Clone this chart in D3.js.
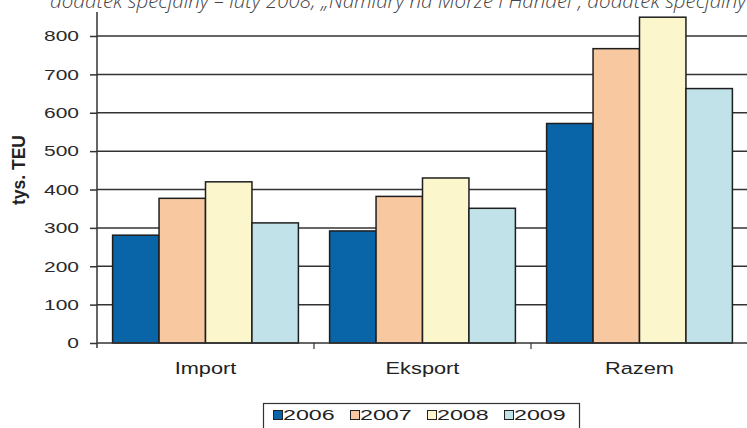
<!DOCTYPE html>
<html>
<head>
<meta charset="utf-8">
<script src="https://cdn.jsdelivr.net/npm/d3@7"></script>
<style>
  html, body { margin: 0; padding: 0; background: #fff; }
  svg { display: block; }
</style>
</head>
<body>
<svg id="chart" width="747" height="428"></svg>
<script>
// Container throughput (thousand TEU) by flow direction and year
const categories = ["Import", "Eksport", "Razem"];
const years = ["2006", "2007", "2008", "2009"];
const values2006 = [281, 292, 572];
const values2007 = [377, 382, 767];
const values2008 = [420, 430, 849];
const values2009 = [313, 351, 663];
const yTicks = [0, 100, 200, 300, 400, 500, 600, 700, 800];
const colors = ["#0a64a8", "#f8c9a0", "#fbf6cb", "#c2e2ea"];
const sourceNote = "dodatek specjalny \u2013 luty 2008; \u201eNamiary na Morze i Handel\u201d, dodatek specjalny";

const seriesValues = [values2006, values2007, values2008, values2009];
const data = categories.map((c, i) => ({
  category: c,
  bars: years.map((y, j) => ({ year: y, value: seriesValues[j][i], color: colors[j] }))
}));

const svg = d3.select("#chart");
const sans = "Liberation Sans, Arial, sans-serif";

const plotLeft = 97, plotRight = 748, plotBottom = 343, plotTop = 36;

const x0 = d3.scaleBand().domain(categories).range([plotLeft, plotRight]).paddingInner(0).paddingOuter(0);
const x1 = d3.scaleBand().domain(years).range([15.6, x0.bandwidth() - 15.6]).padding(0);
const y = d3.scaleLinear().domain([0, 800]).range([plotBottom, plotTop]);

// Widen horizontal label text around its own anchor point
function widen(sel, s) {
  sel.each(function () {
    const t = d3.select(this);
    const x = +t.attr("x") || 0;
    t.attr("x", x / s).attr("transform", `scale(${s},1)`);
  });
}

// Source note (italic line running along the top edge)
svg.append("text")
  .attr("x", 50).attr("y", 8)
  .attr("font-family", "Open Sans")
  .attr("font-style", "italic")
  .attr("font-weight", 300)
  .attr("font-size", 20.5)
  .attr("fill", "#444")
  .text(sourceNote);

// Horizontal gridlines
svg.append("g")
  .selectAll("line")
  .data(yTicks.filter(t => t > 0))
  .join("line")
  .attr("x1", plotLeft).attr("x2", 747)
  .attr("y1", d => y(d)).attr("y2", d => y(d))
  .attr("stroke", "#333")
  .attr("stroke-width", 1.5);

// Bars
const groups = svg.append("g")
  .selectAll("g")
  .data(data)
  .join("g")
  .attr("transform", d => `translate(${x0(d.category)},0)`);

groups.selectAll("rect")
  .data(d => d.bars)
  .join("rect")
  .attr("x", d => x1(d.year))
  .attr("y", d => y(d.value))
  .attr("width", x1.bandwidth())
  .attr("height", d => y(0) - y(d.value))
  .attr("fill", d => d.color)
  .attr("stroke", "#1e1e1e")
  .attr("stroke-width", 1.5);

// Y axis
const yAxis = d3.axisLeft(y)
  .tickValues(yTicks)
  .tickSize(7)
  .tickPadding(11)
  .tickFormat(d3.format("d"));

const gy = svg.append("g")
  .attr("transform", `translate(${plotLeft},0)`)
  .call(yAxis);
gy.select(".domain").remove();
gy.selectAll(".tick line").attr("stroke", "#333").attr("stroke-width", 1.5);
gy.selectAll(".tick text")
  .attr("font-family", sans)
  .attr("font-size", 15)
  .attr("fill", "#2a2a2a")
  .call(widen, 1.4);

svg.append("line")
  .attr("x1", plotLeft).attr("x2", plotLeft)
  .attr("y1", 12).attr("y2", plotBottom + 5)
  .attr("stroke", "#333").attr("stroke-width", 1.5);

// X axis
const xAxis = d3.axisBottom(x0).tickSize(0).tickPadding(19);
const gx = svg.append("g")
  .attr("transform", `translate(0,${plotBottom})`)
  .call(xAxis);
gx.select(".domain").remove();
gx.selectAll(".tick text")
  .attr("font-family", sans)
  .attr("font-size", 16.5)
  .attr("fill", "#222")
  .call(widen, 1.32);

svg.append("line")
  .attr("x1", plotLeft).attr("x2", 747)
  .attr("y1", plotBottom).attr("y2", plotBottom)
  .attr("stroke", "#333").attr("stroke-width", 1.5);

// Category separator ticks
svg.append("g")
  .selectAll("line")
  .data(categories.slice(1))
  .join("line")
  .attr("x1", d => x0(d)).attr("x2", d => x0(d))
  .attr("y1", plotBottom).attr("y2", plotBottom + 6)
  .attr("stroke", "#333").attr("stroke-width", 1.2);

// Y axis title
svg.append("text")
  .attr("transform", "translate(25,170) rotate(-90)")
  .attr("text-anchor", "middle")
  .attr("font-family", sans)
  .attr("font-weight", "bold")
  .attr("font-size", 17.5)
  .attr("fill", "#222")
  .text("tys. TEU");

// Legend
const legend = svg.append("g");
legend.append("rect")
  .attr("x", 263.5).attr("y", 403.5)
  .attr("width", 316).attr("height", 40)
  .attr("fill", "#fff")
  .attr("stroke", "#333")
  .attr("stroke-width", 1.2);

const legendX = d3.scalePoint().domain(years).range([273, 504]);
const items = legend.selectAll("g.item")
  .data(years.map((yr, j) => ({ year: yr, color: colors[j] })))
  .join("g")
  .attr("class", "item")
  .attr("transform", d => `translate(${legendX(d.year)},0)`);

items.append("rect")
  .attr("x", 0.5).attr("y", 410.5)
  .attr("width", 9).attr("height", 9)
  .attr("fill", d => d.color)
  .attr("stroke", "#222")
  .attr("stroke-width", 1);

items.append("text")
  .attr("x", 10).attr("y", 420)
  .attr("font-family", sans)
  .attr("font-size", 15)
  .attr("fill", "#222")
  .text(d => d.year)
  .call(widen, 1.55);
</script>
</body>
</html>
